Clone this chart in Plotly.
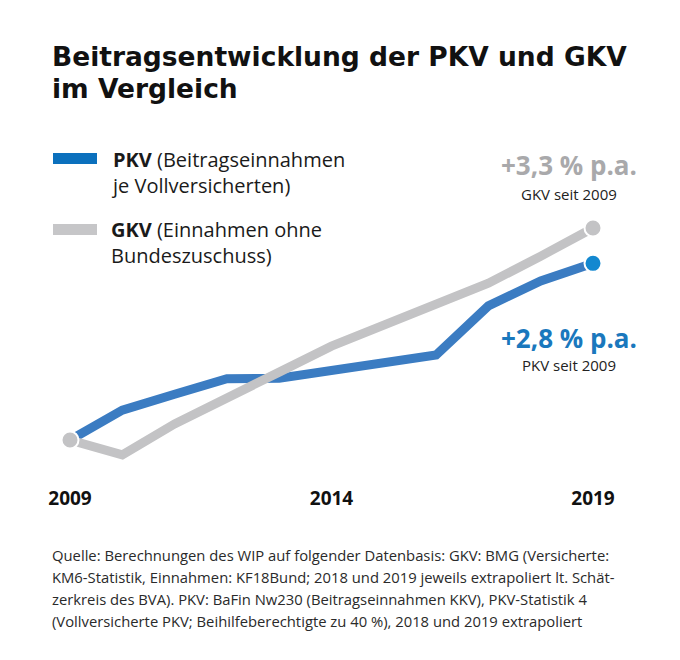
import plotly.graph_objects as go

years = [2009, 2010, 2011, 2012, 2013, 2014, 2015, 2016, 2017, 2018, 2019]
pkv = [100.0, 105.4, 108.3, 111.1, 111.2, 112.5, 113.8, 115.4, 124.3, 128.8, 132.0]
gkv = [100.0, 97.3, 102.9, 107.4, 112.3, 117.0, 120.8, 125.0, 128.4, 133.3, 138.4]
tick_years = [2009, 2014, 2019]
tick_labels = ["2009", "2014", "2019"]

title_lines = ["Beitragsentwicklung der PKV und GKV", "im Vergleich"]
pkv_legend = ["<b>PKV</b> (Beitragseinnahmen", "je Vollversicherten)"]
gkv_legend = ["<b>GKV</b> (Einnahmen ohne", "Bundeszuschuss)"]
gkv_rate = "+3,3 % p.a."
gkv_rate_sub = "GKV seit 2009"
pkv_rate = "+2,8 % p.a."
pkv_rate_sub = "PKV seit 2009"
source_lines = [
    "Quelle: Berechnungen des WIP auf folgender Datenbasis: GKV: BMG (Versicherte:",
    "KM6-Statistik, Einnahmen: KF18Bund; 2018 und 2019 jeweils extrapoliert lt. Schät-",
    "zerkreis des BVA). PKV: BaFin Nw230 (Beitragseinnahmen KKV), PKV-Statistik 4",
    "(Vollversicherte PKV; Beihilfeberechtigte zu 40 %), 2018 und 2019 extrapoliert",
]

OFF = 8  # page body margin
W, H = 664, 644
PW, PH = 523, 275
L, T = 70 - OFF, 200 - OFF
R, B = W - L - PW, H - T - PH

def px(x):
    return (x - OFF - L) / PW

def py(y):
    return (H - B - (y - OFF)) / PH

FONT = "Open Sans"
TITLE_FONT = "DejaVu Sans"
BLUE_LINE = "#3b7cc2"
BLUE_DOT = "#1388d0"
BLUE_TEXT = "#1a78bd"
BLUE_SWATCH = "#0b70bd"
GREY_LINE = "#c3c3c5"
GREY_TEXT = "#a9a9ab"

fig = go.Figure()
fig.add_trace(go.Scatter(x=years, y=pkv, mode="lines",
                         line=dict(color=BLUE_LINE, width=9), cliponaxis=False,
                         hoverinfo="skip"))
fig.add_trace(go.Scatter(x=years, y=gkv, mode="lines",
                         line=dict(color=GREY_LINE, width=9), cliponaxis=False,
                         hoverinfo="skip"))
fig.add_trace(go.Scatter(x=[years[0], years[-1]], y=[gkv[0], gkv[-1]], mode="markers",
                         marker=dict(color=GREY_LINE, size=17, line=dict(color="white", width=2)),
                         cliponaxis=False, hoverinfo="skip"))
fig.add_trace(go.Scatter(x=[years[-1]], y=[pkv[-1]], mode="markers",
                         marker=dict(color=BLUE_DOT, size=17, line=dict(color="white", width=2)),
                         cliponaxis=False, hoverinfo="skip"))

ann = []
def text(x, y, s, size, color="#111111", xanchor="left", bold=False, family=FONT):
    ann.append(dict(x=px(x), y=py(y), xref="paper", yref="paper", text=("<b>%s</b>" % s) if bold else s,
                    showarrow=False, xanchor=xanchor, yanchor="middle", align="left",
                    font=dict(family=family, size=size, color=color)))

text(50, 56, title_lines[0], 26.5, bold=True, family=TITLE_FONT)
text(50, 88, title_lines[1], 26.5, bold=True, family=TITLE_FONT)
text(109, 172.5, "<br>".join(pkv_legend), 20, color="#1a1a1a")
text(109, 242, "<br>".join(gkv_legend), 20, color="#1a1a1a")
text(639, 165, gkv_rate, 26, color=GREY_TEXT, xanchor="right", bold=True)
text(569, 194, gkv_rate_sub, 15, color="#222222", xanchor="center")
text(639, 338, pkv_rate, 26, color=BLUE_TEXT, xanchor="right", bold=True)
text(569, 365, pkv_rate_sub, 15, color="#222222", xanchor="center")
for i, line in enumerate(source_lines):
    text(50, 555 + 22 * i, line, 14.8, color="#2a2a2a")

shapes = [
    dict(type="rect", xref="paper", yref="paper", x0=px(53), x1=px(97), y0=py(153), y1=py(164),
         fillcolor=BLUE_SWATCH, line=dict(width=0)),
    dict(type="rect", xref="paper", yref="paper", x0=px(53), x1=px(97), y0=py(224), y1=py(235),
         fillcolor="#c6c6c8", line=dict(width=0)),
]

y_top = 100 + (440 - 200) / 5.52
y_bot = 100 + (440 - 475) / 5.52

fig.update_layout(
    width=W, height=H, margin=dict(l=L, r=R, t=T, b=B),
    paper_bgcolor="white", plot_bgcolor="white", showlegend=False,
    annotations=ann, shapes=shapes,
    xaxis=dict(range=[2009, 2019], tickvals=tick_years, ticktext=tick_labels,
               showgrid=False, zeroline=False, showline=False, ticks="",
               tickfont=dict(family=FONT, size=19, color="#111111", weight="bold"),
               ticklabelstandoff=10, fixedrange=True),
    yaxis=dict(range=[y_bot, y_top], showgrid=False, zeroline=False, showline=False,
               showticklabels=False, ticks="", fixedrange=True),
)

fig.write_html("out.html")
